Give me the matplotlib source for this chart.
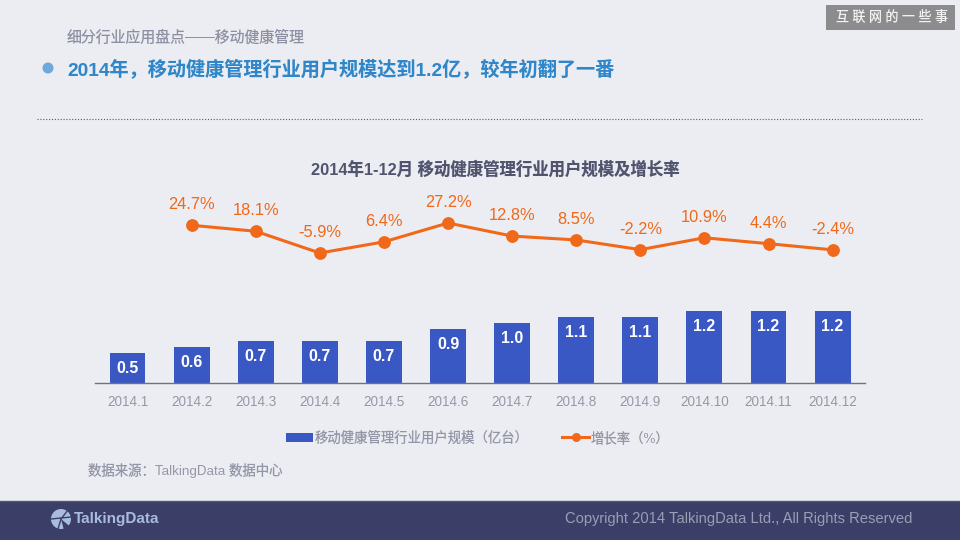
#!/usr/bin/env python3
"""移动健康管理行业用户规模及增长率 slide"""

import matplotlib
matplotlib.use("Agg")
import matplotlib.pyplot as plt
from matplotlib.lines import Line2D
from matplotlib.patches import Circle, Rectangle, Wedge

plt.rcParams['font.family'] = ['Liberation Sans', 'Noto Sans CJK SC', 'DejaVu Sans']
plt.rcParams['text.hinting'] = 'default'

months = ['2014.1', '2014.2', '2014.3', '2014.4', '2014.5', '2014.6',
          '2014.7', '2014.8', '2014.9', '2014.10', '2014.11', '2014.12']
users = [0.5, 0.6, 0.7, 0.7, 0.7, 0.9, 1.0, 1.1, 1.1, 1.2, 1.2, 1.2]
growth_months = months[1:]
growth = [24.7, 18.1, -5.9, 6.4, 27.2, 12.8, 8.5, -2.2, 10.9, 4.4, -2.4]

BG = '#ecedf2'
BLUE = '#3a58c4'
ORANGE = '#f0691a'
GREY = '#9396a6'

fig = plt.figure(figsize=(9.6, 5.4), dpi=100, facecolor=BG)

# page furniture, in pixel coordinates
page = fig.add_axes([0, 0, 1, 1])
page.set_xlim(0, 960)
page.set_ylim(540, 0)
page.axis('off')

page.text(67, 37.5, '细分行业应用盘点——移动健康管理', fontsize=10.7, color='#8d90a2', va='center')
page.add_patch(Circle((48, 68), 5.5, color='#6fa9dc', lw=0))
page.text(67, 69, '2014年，移动健康管理行业用户规模达到1.2亿，较年初翻了一番',
          fontsize=13.75, color='#2f86c9', weight='bold', va='center')
page.plot([37, 922], [119, 119], color='#3f5f95', lw=0.8, ls=(0, (1, 1.6)))
page.text(495.5, 169.5, '2014年1-12月 移动健康管理行业用户规模及增长率',
          fontsize=11.8, color='#50546e', weight='bold', ha='center', va='center')
page.text(88, 471, '数据来源：TalkingData 数据中心', fontsize=9.65, color=GREY, va='center')

# watermark
page.add_patch(Rectangle((826, 5), 129, 25, color='#8c8c8e', lw=0))
page.text(892, 17.5, '互 联 网 的 一 些 事', fontsize=9.3, color='#f2f2f2',
          ha='center', va='center')

# footer band and logo
page.add_patch(Rectangle((0, 501), 960, 39, color='#3b3f68', lw=0))
page.plot([0, 960], [501, 501], color='#55566e', lw=1)
page.add_patch(Circle((61, 519), 10, color='#a9bbdf', lw=0))
page.add_patch(Wedge((61, 519), 10.5, 40, 75, color='#3b3f68', lw=0))
page.plot([51, 71], [519, 517], color='#3b3f68', lw=1)
page.plot([61, 58], [519, 529], color='#3b3f68', lw=1)
page.plot([61, 68], [519, 510], color='#3b3f68', lw=1)
page.text(74, 519.5, 'TalkingData', fontsize=11, color='#a9bbdf', weight='bold', va='center')
page.text(912, 518.5, 'Copyright 2014 TalkingData Ltd., All Rights Reserved',
          fontsize=10.6, color='#9a9db4', ha='right', va='center')

# chart area spans x 95-865 px, y 150-383 px
ax = fig.add_axes([95 / 960, (540 - 383) / 540, 770 / 960, 233 / 540])
ax.patch.set_alpha(0)
positions = list(range(len(months)))
ax.set_xlim(-32.5 / 64.1, (865 - 127.5) / 64.1)
ax.set_ylim(0, 233 / 60)
bars = ax.bar(positions, users, width=0.56, color=BLUE, label='移动健康管理行业用户规模（亿台）')
ax.set_xticks(positions, months)
ax.tick_params(axis='x', length=0, pad=9, labelsize=9.7, labelcolor=GREY)
ax.set_yticks([])
for side in ['top', 'left', 'right']:
    ax.spines[side].set_visible(False)
ax.spines['bottom'].set_color('#6d7088')
ax.spines['bottom'].set_linewidth(1)

for x, v in zip(positions, users):
    ax.annotate(f'{v:.1f}', (x, v), xytext=(0, -11), textcoords='offset points',
                ha='center', va='center', color='white', fontsize=11.5, weight='bold')

ax2 = ax.twinx()
ax2.patch.set_alpha(0)
ax2.set_ylim(-149.4, 107.8)
ax2.axis('off')
growth_x = [months.index(m) for m in growth_months]
line, = ax2.plot(growth_x, growth, color=ORANGE, lw=2.2, marker='o', markersize=8.2,
                 label='增长率（%）')
for x, v in zip(growth_x, growth):
    ax2.annotate(f'{v}%', (x, v), xytext=(0, 14.5), textcoords='offset points',
                 ha='center', va='center', color=ORANGE, fontsize=11.9)

line_key = Line2D([], [], color=ORANGE, lw=2.2, marker='o', markersize=5.5)
fig.legend([bars, line_key], [bars.get_label(), line.get_label()], ncol=2, frameon=False,
           loc='center', bbox_to_anchor=(478 / 960, (540 - 438) / 540), fontsize=9.6,
           labelcolor=GREY, handlelength=2.0, handletextpad=0.15, columnspacing=2.5)

fig.savefig('out.png', dpi=100, facecolor=BG)
